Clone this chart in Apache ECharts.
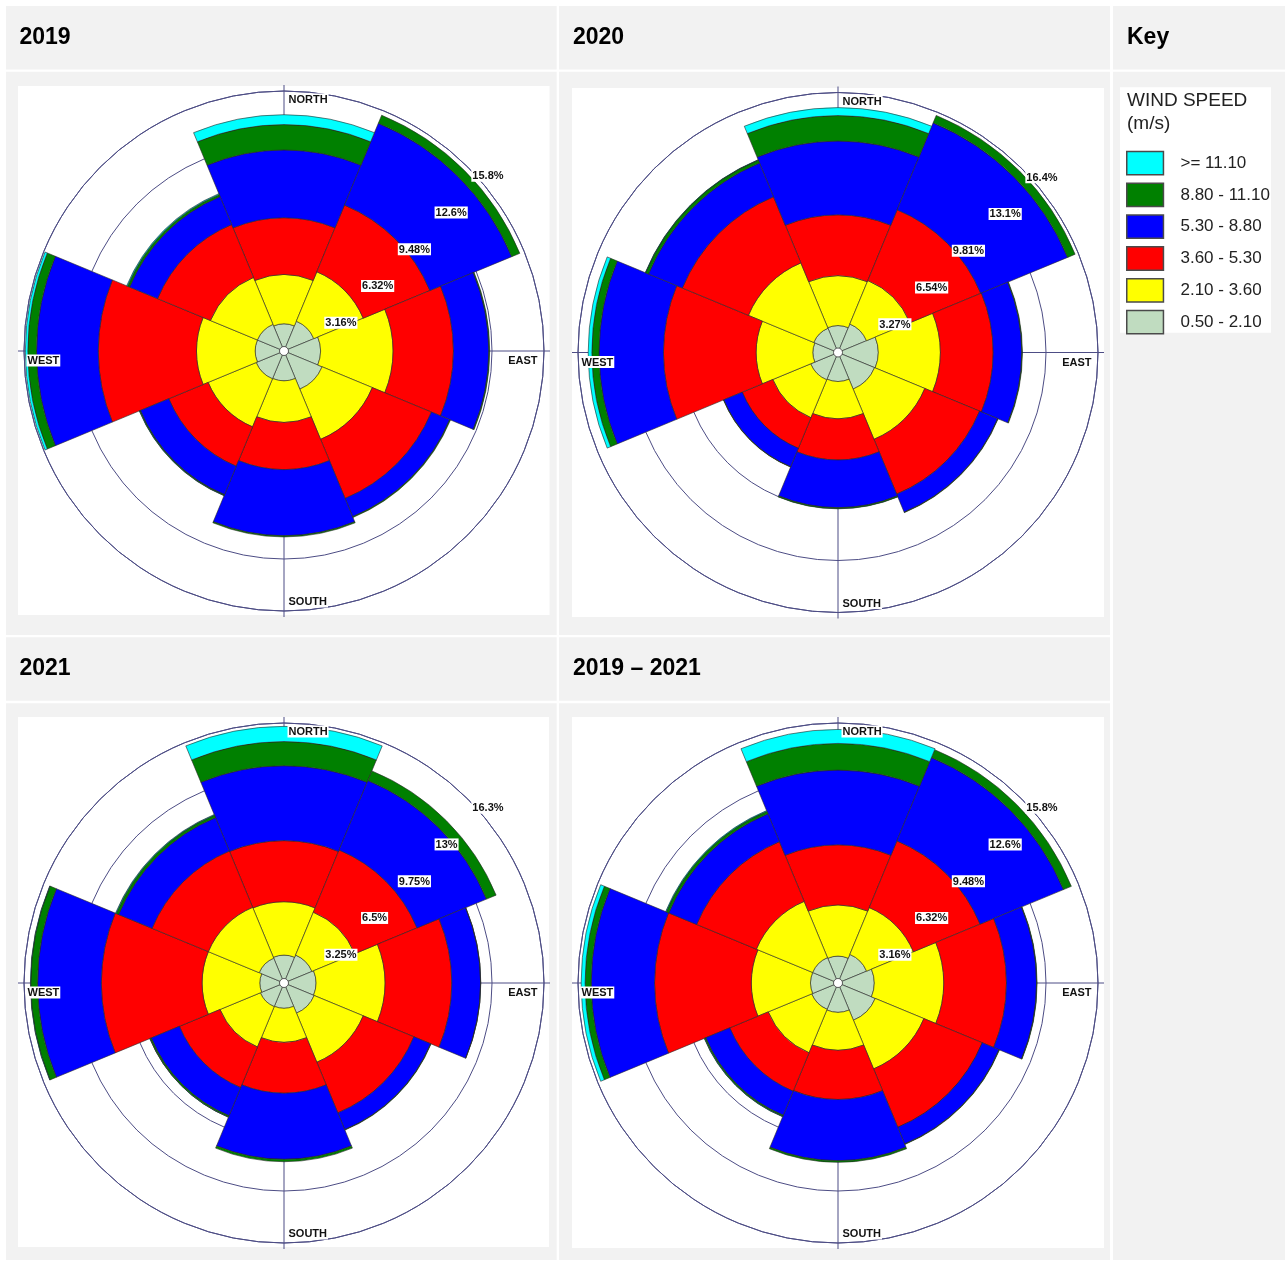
<!DOCTYPE html>
<html>
<head>
<meta charset="utf-8">
<title>Wind roses 2019 – 2021</title>
<script src="https://cdn.jsdelivr.net/npm/echarts@6/dist/echarts.min.js"></script>
<style>
  html, body { margin: 0; padding: 0; background: #ffffff; }
  #chart { width: 1285px; height: 1262px; }
</style>
</head>
<body>
<div id="chart"></div>
<script>
// ---- categories ----
const directions = ['N', 'NE', 'E', 'SE', 'S', 'SW', 'W', 'NW'];
const speedClasses = ['0.50 - 2.10', '2.10 - 3.60', '3.60 - 5.30', '5.30 - 8.80', '8.80 - 11.10', '>= 11.10'];
const speedColors = ['#C0DCC0', '#FFFF00', '#FF0000', '#0000FF', '#008000', '#00FFFF'];
const cardinalNames = ['NORTH', 'EAST', 'SOUTH', 'WEST'];
const cardinalDirs = ['N', 'E', 'S', 'W'];

// ---- frequency (%) by direction, one array per speed class ----
// 2019
const y2019_s1 = [1.65, 1.96, 2.22, 2.51, 1.81, 1.83, 1.75, 1.75];
const y2019_s2 = [2.99, 3.25, 4.41, 3.30, 2.52, 3.16, 3.57, 3.09];
const y2019_s3 = [3.46, 4.39, 3.67, 3.89, 2.88, 2.59, 5.97, 3.48];
const y2019_s4 = [4.12, 5.38, 2.15, 1.20, 4.02, 1.87, 3.75, 1.84];
const y2019_s5 = [1.54, 0.53, 0.05, 0.05, 0.07, 0.05, 0.53, 0.14];
const y2019_s6 = [0.60, 0, 0, 0, 0, 0.02, 0.15, 0.05];
// 2020
const y2020_s1 = [1.69, 1.94, 2.53, 2.49, 1.82, 1.86, 1.58, 1.65];
const y2020_s2 = [3.13, 2.96, 3.91, 3.42, 2.34, 2.58, 3.57, 4.45];
const y2020_s3 = [3.84, 4.82, 3.32, 3.73, 2.60, 2.08, 5.83, 4.50];
const y2020_s4 = [4.64, 5.91, 1.80, 1.23, 3.00, 1.26, 4.05, 2.30];
const y2020_s5 = [1.60, 0.51, 0.04, 0.03, 0.07, 0.02, 0.45, 0.20];
const y2020_s6 = [0.50, 0, 0, 0, 0, 0, 0.23, 0.02];
// 2021
const y2021_s1 = [1.74, 1.89, 2.00, 2.04, 1.58, 1.60, 1.51, 1.68];
const y2021_s2 = [3.34, 2.90, 4.32, 3.32, 2.12, 2.73, 3.61, 3.44];
const y2021_s3 = [3.82, 4.21, 4.17, 3.43, 3.19, 2.75, 6.30, 3.81];
const y2021_s4 = [4.68, 4.70, 1.80, 1.13, 4.13, 1.90, 3.98, 2.26];
const y2021_s5 = [1.51, 0.65, 0.01, 0.03, 0.15, 0.09, 0.43, 0.17];
const y2021_s6 = [0.95, 0, 0, 0, 0, 0.01, 0.02, 0.04];
// 2019 - 2021 combined
const yAll_s1 = [1.63, 1.88, 2.20, 2.45, 1.78, 1.73, 1.67, 1.67];
const yAll_s2 = [3.10, 3.08, 4.23, 3.20, 2.30, 2.86, 3.60, 3.70];
const yAll_s3 = [3.67, 4.39, 3.81, 3.84, 3.00, 2.53, 5.88, 3.93];
const yAll_s4 = [4.54, 5.48, 1.83, 1.10, 3.72, 1.58, 3.85, 1.83];
const yAll_s5 = [1.62, 0.52, 0.03, 0.03, 0.10, 0.08, 0.37, 0.17];
const yAll_s6 = [0.85, 0, 0, 0, 0, 0.02, 0.24, 0.04];

// ---- radial rings and their tick labels ----
const rings2019 = [3.16, 6.32, 9.48, 12.64, 15.8];
const ticks2019 = ['3.16%', '6.32%', '9.48%', '12.6%', '15.8%'];
const rings2020 = [3.27, 6.54, 9.81, 13.08, 16.35];
const ticks2020 = ['3.27%', '6.54%', '9.81%', '13.1%', '16.4%'];
const rings2021 = [3.25, 6.5, 9.75, 13, 16.25];
const ticks2021 = ['3.25%', '6.5%', '9.75%', '13%', '16.3%'];
const ringsAll = [3.16, 6.32, 9.48, 12.64, 15.8];
const ticksAll = ['3.16%', '6.32%', '9.48%', '12.6%', '15.8%'];

const panelTitles = ['2019', '2020', '2021', '2019 \u2013 2021'];

const panels = [
  { bands: [y2019_s1, y2019_s2, y2019_s3, y2019_s4, y2019_s5, y2019_s6], rings: rings2019, ticks: ticks2019 },
  { bands: [y2020_s1, y2020_s2, y2020_s3, y2020_s4, y2020_s5, y2020_s6], rings: rings2020, ticks: ticks2020 },
  { bands: [y2021_s1, y2021_s2, y2021_s3, y2021_s4, y2021_s5, y2021_s6], rings: rings2021, ticks: ticks2021 },
  { bands: [yAll_s1, yAll_s2, yAll_s3, yAll_s4, yAll_s5, yAll_s6], rings: ringsAll, ticks: ticksAll }
];

// ---- layout ----
const FONT = '"Liberation Sans", Arial, Helvetica, sans-serif';
const LINE = '#4d4d85';
const CELL = '#f2f2f2';
const roseCenters = [[284, 351], [838, 352.5], [284, 983], [838, 983]];
const roseRadius = 260;
const crossRadius = 266;
const imageBoxes = [[18, 86, 531.5, 529], [572, 88, 532, 529], [18, 717, 531, 530], [572, 717, 532, 531]];
const cellBoxes = [
  [6, 6, 550.7, 63.5], [559, 6, 551, 63.5], [1113, 6, 172, 63.5],
  [6, 71.7, 550.7, 563.3], [559, 71.7, 551, 563.3], [1113, 71.7, 172, 1188.3],
  [6, 637.3, 550.7, 63.4], [559, 637.3, 551, 63.4],
  [6, 703.3, 550.7, 556.7], [559, 703.3, 551, 556.7]
];
const headerPos = [[19.5, 38], [573, 38], [19.5, 669], [573, 669]];

const graphics = [];
cellBoxes.forEach(b => graphics.push({
  type: 'rect', z: -20, silent: true,
  shape: { x: b[0], y: b[1], width: b[2], height: b[3] }, style: { fill: CELL }
}));
imageBoxes.forEach(b => graphics.push({
  type: 'rect', z: -19, silent: true,
  shape: { x: b[0], y: b[1], width: b[2], height: b[3] }, style: { fill: '#ffffff' }
}));
graphics.push({
  type: 'rect', z: -19, silent: true,
  shape: { x: 1120, y: 87.3, width: 151, height: 245.4 }, style: { fill: '#ffffff' }
});
panelTitles.forEach((t, i) => graphics.push({
  type: 'text', z: 50, silent: true, x: headerPos[i][0], y: headerPos[i][1],
  style: { text: t, fill: '#000000', font: 'bold 23px ' + FONT, align: 'left', verticalAlign: 'middle',
           textAlign: 'left', textVerticalAlign: 'middle' }
}));
graphics.push({
  type: 'text', z: 50, silent: true, x: 1127, y: 38,
  style: { text: 'Key', fill: '#000000', font: 'bold 23px ' + FONT, align: 'left', verticalAlign: 'middle',
           textAlign: 'left', textVerticalAlign: 'middle' }
});
graphics.push({
  type: 'text', z: 50, silent: true, x: 1127, y: 101,
  style: { text: 'WIND SPEED', fill: '#222222', font: '19px ' + FONT, align: 'left', verticalAlign: 'middle',
           textAlign: 'left', textVerticalAlign: 'middle' }
});
graphics.push({
  type: 'text', z: 50, silent: true, x: 1127, y: 124,
  style: { text: '(m/s)', fill: '#222222', font: '19px ' + FONT, align: 'left', verticalAlign: 'middle',
           textAlign: 'left', textVerticalAlign: 'middle' }
});

// ---- coordinate systems ----
const polar = [];
const angleAxis = [];
const radiusAxis = [];
const series = [];

panels.forEach((p, i) => {
  polar.push({ center: roseCenters[i], radius: roseRadius });
  angleAxis.push({
    polarIndex: i, type: 'category', data: directions, startAngle: 112.5, boundaryGap: true,
    axisLine: { show: true, lineStyle: { color: LINE, width: 1 } },
    axisTick: { show: false }, axisLabel: { show: false }, splitLine: { show: false }
  });
  radiusAxis.push({
    polarIndex: i, type: 'value', min: 0, max: p.rings[p.rings.length - 1], interval: p.rings[0],
    axisLine: { show: false }, axisTick: { show: false }, axisLabel: { show: false },
    splitLine: { show: true, lineStyle: { color: LINE, width: 1 } }
  });
});
// compass cross lines, reaching the edge of each rose image
panels.forEach((p, i) => {
  polar.push({ center: roseCenters[i], radius: crossRadius });
  angleAxis.push({
    polarIndex: 4 + i, type: 'value', min: 0, max: 360, interval: 90, startAngle: 90,
    axisLine: { show: false }, axisTick: { show: false }, axisLabel: { show: false },
    splitLine: { show: true, lineStyle: { color: LINE, width: 1 } }
  });
  radiusAxis.push({
    polarIndex: 4 + i, type: 'value', min: 0, max: 1,
    axisLine: { show: false }, axisTick: { show: false }, axisLabel: { show: false },
    splitLine: { show: false }
  });
});

const labelBase = {
  show: true, fontFamily: FONT, fontSize: 11, fontWeight: 'bold', color: '#111111',
  backgroundColor: '#ffffff', padding: [1, 1, 0, 1], formatter: '{b}'
};
const hiddenPoint = { color: 'rgba(0,0,0,0)', opacity: 1 };

panels.forEach((p, i) => {
  // stacked petals, one series per speed class
  p.bands.forEach((vals, k) => {
    series.push({
      type: 'bar', name: speedClasses[k], coordinateSystem: 'polar', polarIndex: i,
      stack: 'rose' + i, barCategoryGap: '0%', silent: true, z: 2,
      itemStyle: { color: speedColors[k], borderColor: '#262626', borderWidth: 0.6 },
      data: vals.map(v => (v === 0 ? '-' : v))
    });
  });
  // ring value labels along the north-east ray
  series.push({
    type: 'scatter', coordinateSystem: 'polar', polarIndex: i, silent: true, z: 10,
    symbol: 'circle', symbolSize: 1, itemStyle: hiddenPoint,
    label: Object.assign({}, labelBase, { position: [4, 3], align: 'left', verticalAlign: 'top' }),
    data: p.rings.map((v, j) => ({ name: p.ticks[j], value: [v, 'NE'] }))
  });
  // compass point names on the outer ring
  const outer = p.rings[p.rings.length - 1];
  const cardinalLabel = {
    NORTH: { position: [4, 3], align: 'left', verticalAlign: 'top' },
    EAST: { position: [-5, 4], align: 'right', verticalAlign: 'top' },
    SOUTH: { position: [4, -3], align: 'left', verticalAlign: 'bottom' },
    WEST: { position: [3, 4], align: 'left', verticalAlign: 'top' }
  };
  series.push({
    type: 'scatter', coordinateSystem: 'polar', polarIndex: i, silent: true, z: 10,
    symbol: 'circle', symbolSize: 1, itemStyle: hiddenPoint,
    label: Object.assign({}, labelBase),
    data: cardinalNames.map((n, j) => ({
      name: n, value: [outer, cardinalDirs[j]], label: cardinalLabel[n]
    }))
  });
  // calm circle in the middle
  series.push({
    type: 'scatter', coordinateSystem: 'polar', polarIndex: i, silent: true, z: 11,
    symbol: 'circle', symbolSize: 9,
    itemStyle: { color: '#ffffff', borderColor: '#333333', borderWidth: 0.8, opacity: 1 },
    data: [[0, 'N']]
  });
});

const chart = echarts.init(document.getElementById('chart'), null, { renderer: 'canvas', width: 1285, height: 1262 });
chart.setOption({
  animation: false,
  backgroundColor: '#ffffff',
  graphic: { elements: graphics },
  polar: polar,
  angleAxis: angleAxis,
  radiusAxis: radiusAxis,
  legend: {
    orient: 'vertical', left: 1126, top: 150.7, padding: 0,
    itemWidth: 36.7, itemHeight: 23.3, itemGap: 7,
    icon: 'rect', selectedMode: false,
    data: speedClasses.slice().reverse(),
    itemStyle: { borderColor: '#4a4a4a', borderWidth: 1.5 },
    textStyle: { fontFamily: FONT, fontSize: 17, color: '#222222', padding: [0, 0, 0, 12] }
  },
  series: series
});
</script>
</body>
</html>
